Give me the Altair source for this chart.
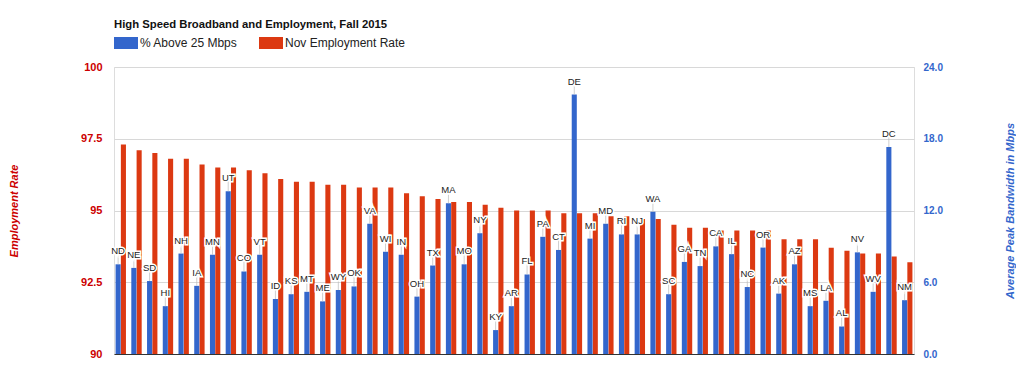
import altair as alt
import pandas as pd

states = ["ND","NE","SD","HI","NH","IA","MN","UT","CO","VT","ID","KS","MT","ME","WY","OK",
          "VA","WI","IN","OH","TX","MA","MO","NY","KY","AR","FL","PA","CT","DE","MI","MD",
          "RI","NJ","WA","SC","GA","TN","CA","IL","NC","OR","AK","AZ","MS","LA","AL","NV",
          "WV","DC","NM"]
pct_above_25 = [7.5,7.2,6.1,4.0,8.4,5.7,8.3,13.6,6.9,8.3,4.6,5.0,5.2,4.4,5.35,5.65,
                10.9,8.55,8.3,4.8,7.4,12.6,7.5,10.1,2.0,4.0,6.65,9.8,8.7,21.7,9.65,10.9,
                10.0,10.0,11.9,5.0,7.7,7.35,9.0,8.35,5.6,8.9,5.05,7.5,4.0,4.45,2.3,8.5,
                5.2,17.3,4.5]
employment = [97.3,97.1,97.0,96.8,96.8,96.6,96.5,96.5,96.4,96.3,96.1,96.0,96.0,95.9,95.9,95.8,
              95.8,95.8,95.6,95.5,95.4,95.3,95.3,95.2,95.1,95.0,95.0,95.0,94.9,94.9,94.9,94.8,
              94.8,94.7,94.7,94.5,94.4,94.4,94.3,94.3,94.3,94.3,94.0,94.0,94.0,93.7,93.6,93.5,
              93.5,93.4,93.2]
series_names = ["% Above 25 Mbps", "Nov Employment Rate"]
series_colors = ["#3366cc", "#dc3912"]
emp_ticks = [90, 92.5, 95, 97.5, 100]
bw_ticks = [0, 6, 12, 18, 24]

rows = []
for s, b, e in zip(states, pct_above_25, employment):
    rows.append({"state": s, "series": series_names[0], "value": b})
    rows.append({"state": s, "series": series_names[1], "value": e})
df = pd.DataFrame(rows)

FONT = "Liberation Sans"

x_enc = alt.X("state:N", sort=states,
              scale=alt.Scale(paddingInner=0.34, paddingOuter=0.1),
              axis=alt.Axis(labels=False, ticks=False, title=None, domain=True,
                            domainColor="#333333", domainWidth=1, grid=False))
xo_enc = alt.XOffset("series:N", sort=series_names,
                     scale=alt.Scale(domain=series_names, paddingInner=0.04))
color_enc = alt.Color("series:N", sort=series_names,
                      scale=alt.Scale(domain=series_names, range=series_colors),
                      legend=alt.Legend(title=None, orient="top", direction="horizontal",
                                        symbolType="M-1,-1H3V1H-1Z", symbolSize=144,
                                        symbolStrokeWidth=0, labelFontSize=12,
                                        labelFont=FONT, labelColor="#222222",
                                        columnPadding=21, labelOffset=14, offset=18))

base = alt.Chart(df)

red = base.transform_filter(alt.datum.series == series_names[1]).mark_bar(clip=True).encode(
    x=x_enc, xOffset=xo_enc, color=color_enc,
    y=alt.Y("value:Q", scale=alt.Scale(domain=[90, 100], zero=False, nice=False),
            axis=alt.Axis(orient="left", values=emp_ticks, labelExpr="'' + datum.value",
                          labelColor="#cc0000", labelFontWeight="bold", labelFontSize=11,
                          labelFont=FONT, labelPadding=12, ticks=False, domain=False,
                          grid=True, gridColor="#d8d8d8",
                          title="Employment Rate", titleColor="#cc0000",
                          titleFontStyle="italic", titleFontWeight="bold", titleFontSize=11,
                          titleFont=FONT, titlePadding=61)),
)

blue_src = base.transform_filter(alt.datum.series == series_names[0])
y_bw = alt.Y("value:Q", scale=alt.Scale(domain=[0, 24], nice=False),
             axis=alt.Axis(orient="right", values=bw_ticks, format=".1f",
                           labelColor="#3366cc", labelFontWeight="bold", labelFontSize=10,
                           labelFont=FONT, labelPadding=9, ticks=False, domain=False,
                           grid=False, title="Average Peak Bandwidth in Mbps",
                           titleColor="#3366cc", titleFontStyle="italic",
                           titleFontWeight="bold", titleFontSize=11, titleFont=FONT,
                           titlePadding=73, titleAngle=270))

blue = blue_src.mark_bar().encode(x=x_enc, xOffset=xo_enc, color=color_enc, y=y_bw)
leader = blue_src.mark_tick(orient="vertical", size=10, thickness=1, color="#bbbbbb",
                            yOffset=-5).encode(x=x_enc, xOffset=xo_enc, y=y_bw)
halo = blue_src.mark_text(baseline="alphabetic", dy=-10, fontSize=9.5, font=FONT,
                          stroke="white", strokeWidth=3, color="white").encode(
    x=x_enc, xOffset=xo_enc, y=y_bw, text="state:N")
labels = blue_src.mark_text(baseline="alphabetic", dy=-10, fontSize=9.5, font=FONT,
                            color="#222222").encode(
    x=x_enc, xOffset=xo_enc, y=y_bw, text="state:N")

chart = alt.layer(red, alt.layer(blue, leader, halo, labels)).resolve_scale(
    y="independent"
).properties(
    width=800, height=287, padding={"top": 10, "left": 0, "right": 0, "bottom": 0},
    title=alt.Title("High Speed Broadband and Employment, Fall 2015", anchor="start",
                    frame="group", fontSize=11.3, font=FONT, fontWeight="bold",
                    color="#111111", offset=7),
).configure_view(stroke=None).configure(background="white")

chart.save("out.html", embed_options={"renderer": "svg", "actions": False})
